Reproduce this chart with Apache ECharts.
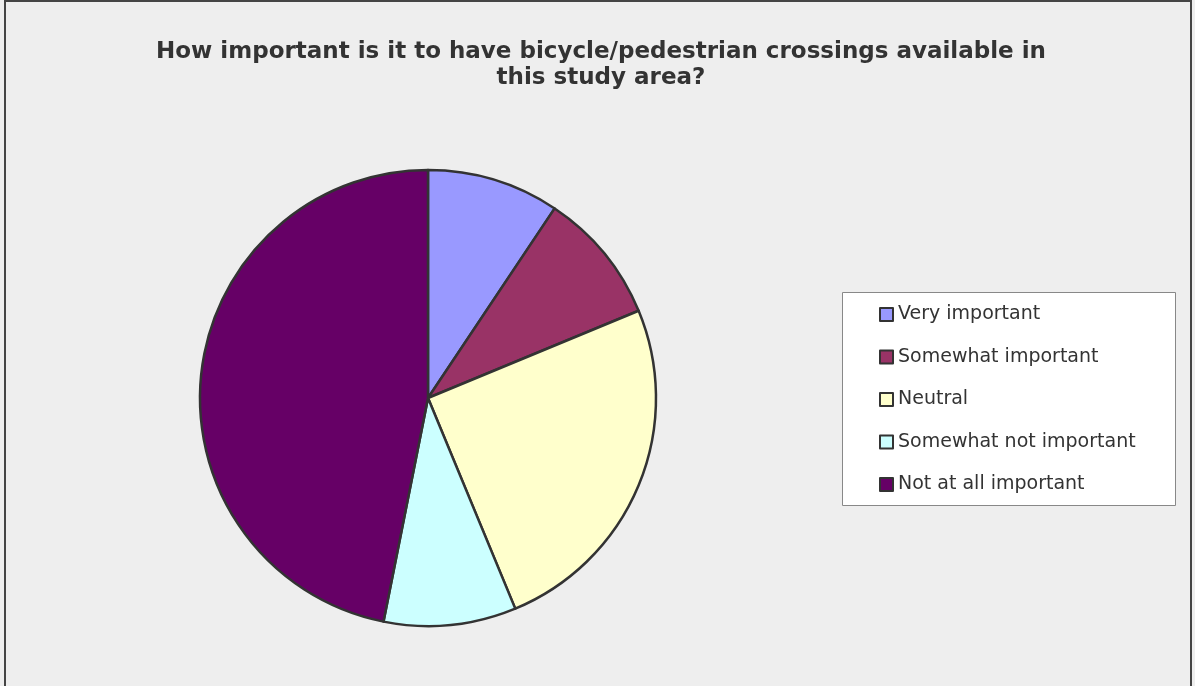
<!DOCTYPE html>
<html>
<head>
<meta charset="utf-8">
<script src="https://cdn.jsdelivr.net/npm/echarts@6/dist/echarts.min.js"></script>
<style>
html,body{margin:0;padding:0;background:#EEEEEE;}
#chart{width:1195px;height:686px;}
</style>
</head>
<body>
<div id="chart"></div>
<script>
const titleLines = ['How important is it to have bicycle/pedestrian crossings available in', 'this study area?'];
const categories = ['Very important', 'Somewhat important', 'Neutral', 'Somewhat not important', 'Not at all important'];
const values = [3, 3, 8, 3, 15];
const colors = ['#9999FF', '#993366', '#FFFFCC', '#CCFFFF', '#660066'];

const chart = echarts.init(document.getElementById('chart'));
chart.setOption({
  backgroundColor: '#EEEEEE',
  animation: false,
  title: {
    text: titleLines.join('\n'),
    left: 596,
    textAlign: 'center',
    top: 34,
    textStyle: {
      fontFamily: 'DejaVu Sans',
      fontWeight: 'bold',
      fontSize: 23,
      color: '#333333',
      lineHeight: 26
    }
  },
  graphic: [
    {
      type: 'rect',
      shape: { x: 5, y: 1, width: 1186, height: 700 },
      style: { fill: 'none', stroke: '#444444', lineWidth: 2 },
      silent: true
    },
    {
      type: 'rect',
      shape: { x: 842.5, y: 292.5, width: 333, height: 213 },
      style: { fill: '#FFFFFF', stroke: '#888888', lineWidth: 1 },
      silent: true,
      z: -1
    }
  ],
  legend: {
    orient: 'vertical',
    left: 879,
    top: 305,
    itemWidth: 13,
    itemHeight: 13,
    itemGap: 23.5,
    icon: 'rect',
    padding: 0,
    itemStyle: { borderColor: '#333333', borderWidth: 2 },
    textStyle: {
      fontFamily: 'DejaVu Sans',
      fontSize: 19,
      color: '#333333',
      lineHeight: 19,
      padding: [0, 0, 0, 0]
    },
    itemTextGap: 5,
    data: categories
  },
  series: [{
    type: 'pie',
    center: [428, 398],
    radius: 228,
    startAngle: 90,
    clockwise: true,
    label: { show: false },
    labelLine: { show: false },
    emphasis: { disabled: true },
    itemStyle: { borderColor: '#333333', borderWidth: 2.5 },
    data: categories.map((c, i) => ({ name: c, value: values[i], itemStyle: { color: colors[i] } }))
  }]
});
</script>
</body>
</html>
